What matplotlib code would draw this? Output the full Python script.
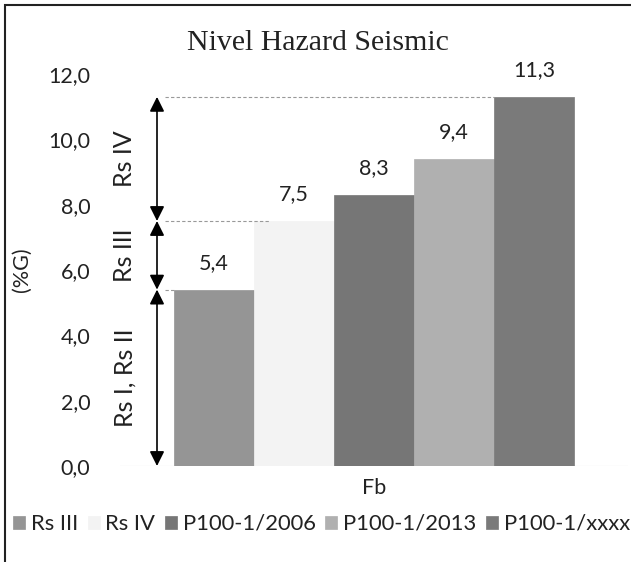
import matplotlib.pyplot as plt
from matplotlib.patches import Rectangle

# data
series = ["Rs III", "Rs IV", "P100-1/2006", "P100-1/2013", "P100-1/xxxx"]
values = [5.4, 7.5, 8.3, 9.4, 11.3]
colors = ["#959595", "#f3f3f3", "#767676", "#b0b0b0", "#7a7a7a"]
category = "Fb"
yticks = [0, 2, 4, 6, 8, 10, 12]
zones = [("Rs I, Rs II", 0, 5.4), ("Rs III", 5.4, 7.5), ("Rs IV", 7.5, 11.3)]

W, H = 631, 562
fig = plt.figure(figsize=(W / 100, H / 100), dpi=100)
plt.rcParams['font.family'] = ['Lato', 'DejaVu Sans']
fs = 15.5
tc = "#222222"

# axes placed in pixel terms
left, right, top, bottom = 120, 628, 74, 466
ax = fig.add_axes([left / W, 1 - bottom / H, (right - left) / W, (bottom - top) / H])

n = len(values)
xs = [i - (n - 1) / 2 for i in range(n)]
for x, v, c, s in zip(xs, values, colors, series):
    ax.bar(x, v, width=1.0, color=c, edgecolor=c, linewidth=0.5, label=s)
    ax.annotate("{:.1f}".format(v).replace(".", ","), (x, v), xytext=(0, 12),
                textcoords="offset points", ha="center", va="bottom",
                fontsize=fs, color=tc)

half = (right - left) / 2 / 80
ax.set_xlim(-half, half)
ax.set_ylim(0, 12)
ax.axhline(0, color="#d9d9d9", lw=0.8, zorder=0)

for sp in ax.spines.values():
    sp.set_visible(False)

ax.set_yticks(yticks)
ax.set_yticklabels(["{:.1f}".format(t).replace(".", ",") for t in yticks])
ax.tick_params(axis="y", length=0, pad=21.5, labelsize=fs, labelcolor=tc)
ax.set_xticks([0])
ax.set_xticklabels([category])
ax.tick_params(axis="x", length=0, pad=9, labelsize=fs, labelcolor=tc)

ax.set_ylabel("(%G)", fontsize=fs, color=tc, va="center")
ax.yaxis.set_label_coords((22 - left) / (right - left), 0.5)

# zone arrows, labels and dashed guide lines
xa = (157 - 374) / 80
xl = (125 - 374) / 80
xd = (165 - 374) / 80
for name, lo, hi in zones:
    ax.annotate("", xy=(xa, hi), xytext=(xa, lo),
                arrowprops=dict(arrowstyle="<|-|>", color="black", lw=1.2,
                                mutation_scale=22, shrinkA=0, shrinkB=0))
    ax.text(xl, (lo + hi) / 2, name, rotation=90, ha="center", va="center",
            fontsize=18, color=tc)

ax.plot([xd, xs[0] - 0.5], [values[0]] * 2, ls=(0, (3, 2)), color="#999999", lw=0.8)
ax.plot([xd, -1.3], [values[1]] * 2, ls=(0, (3, 2)), color="#999999", lw=0.8)
ax.plot([xd, xs[4] - 0.5], [values[4]] * 2, ls=(0, (3, 2)), color="#999999", lw=0.8)

fig.text(318 / W, 1 - 43 / H, "Nivel Hazard Seismic", family="Liberation Serif",
         fontsize=21.5, ha="center", va="center", color=tc)

handles, labels = ax.get_legend_handles_labels()
fig.legend(handles, labels, loc="center left", bbox_to_anchor=(13 / W, 1 - 524 / H),
           ncol=5, frameon=False, fontsize=15.8, handlelength=0.55, handleheight=0.55,
           handletextpad=0.25, columnspacing=0.45, labelcolor=tc,
           borderpad=0, borderaxespad=0)

# outer frame
fig.add_artist(Rectangle((5 / W, -0.1), 1.2, (H - 5) / H + 0.1, transform=fig.transFigure,
                         fill=False, edgecolor=tc, lw=1.5))

fig.savefig("out.png", dpi=100)
